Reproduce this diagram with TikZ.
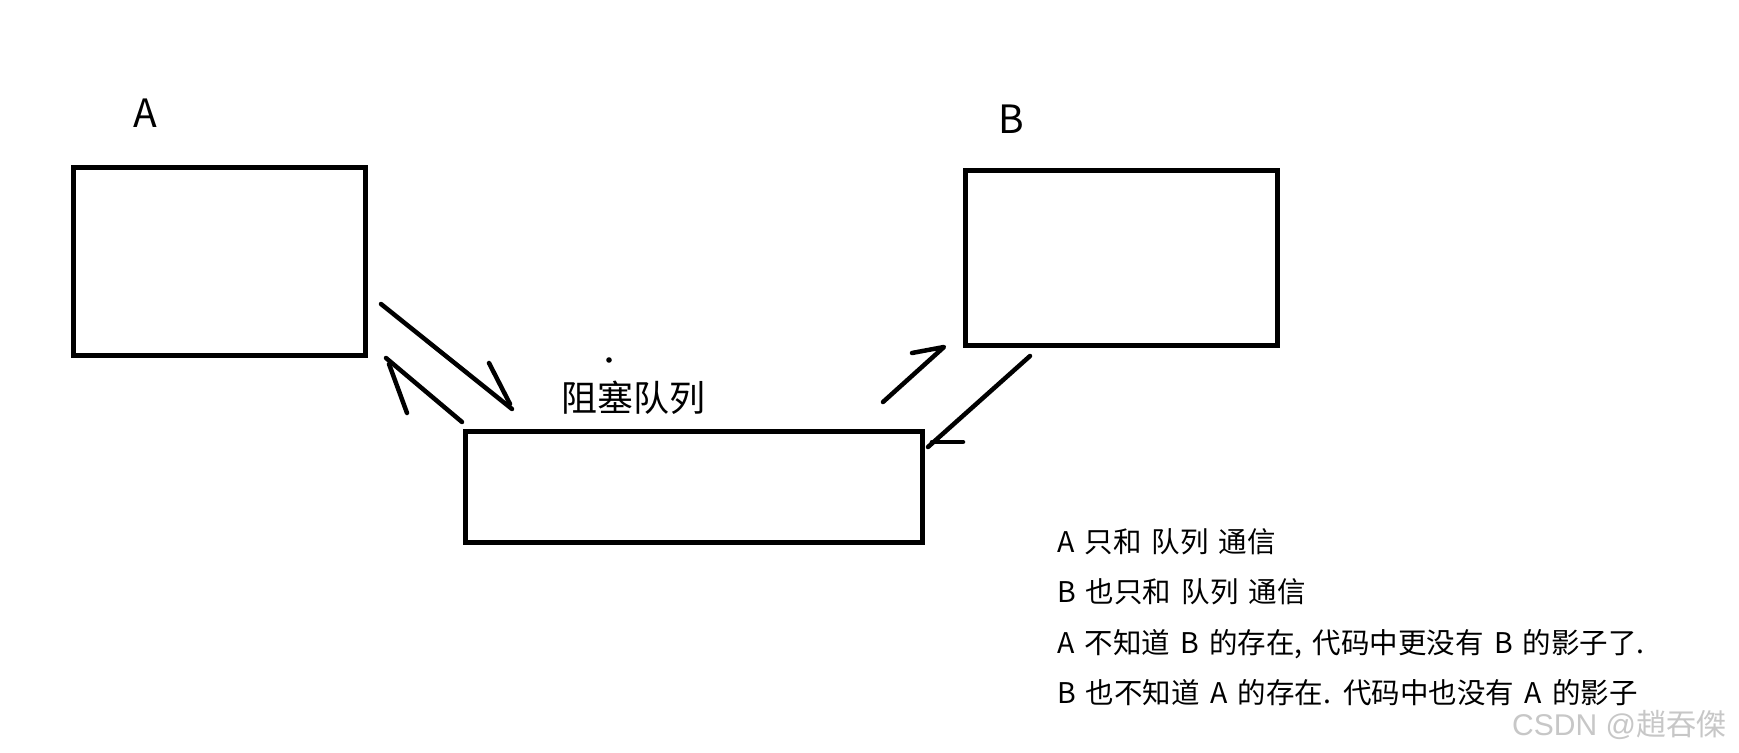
\documentclass[tikz,border=0pt]{standalone}
\usepackage{fontspec}
\setmainfont{Noto Sans CJK SC}
\newfontfamily\cjk{Noto Sans CJK SC}
\newfontfamily\cjkw[WordSpace=1.6]{Noto Sans CJK SC}
\newfontfamily\wmlatin{Liberation Sans}
\begin{document}
\begin{tikzpicture}[x=1pt,y=-1pt,
  boxnode/.style={draw=black,line width=5pt,minimum width=#1,inner sep=0pt,outer sep=0pt},
  stroke/.style={line width=4.5pt,line cap=round,line join=round},
  txt/.style={inner sep=0pt,outer sep=0pt,anchor=base west,font=\cjkw\fontsize{28.5}{34}\selectfont},
]
\useasboundingbox (0,0) rectangle (1739,752);
\fill[white] (0,0) rectangle (1739,752);
% boxes
\node[boxnode=292pt,minimum height=188pt] (A) at (219,261) {};
\node[boxnode=312pt,minimum height=175pt] (B) at (1121,257.5) {};
\node[boxnode=457pt,minimum height=111pt] (Q) at (693.5,486.5) {};
% labels
\node[inner sep=0pt,anchor=base west,font=\cjk\fontsize{39}{45}\selectfont] (la) at (133,127) {A};
\node[inner sep=0pt,anchor=base west,font=\cjk\fontsize{39}{45}\selectfont] (lb) at (998,133) {B};
\node[inner sep=0pt,anchor=base west,font=\cjk\fontsize{36}{42}\selectfont] (lq) at (561,411) {阻塞队列};
\fill (609,360) circle (2.8pt);
% arrow end points
\coordinate (a1s) at (381,304);  \coordinate (a1e) at (512,409);  \coordinate (a1b) at (489,363); \coordinate (a1t) at (510,404);
\coordinate (a2s) at (462,422);  \coordinate (a2e) at (386,358);  \coordinate (a2b) at (407,413); \coordinate (a2t) at (389,364);
\coordinate (a3s) at (883,402);  \coordinate (a3e) at (944,347);  \coordinate (a3b) at (912,353);
\coordinate (a4s) at (1030,356); \coordinate (a4e) at (928,447);  \coordinate (a4b) at (963,442); \coordinate (a4t) at (932,442);
\draw[stroke] (a1s) -- (a1e);
\draw[stroke] (a1b) -- (a1t);
\draw[stroke] (a2s) -- (a2e);
\draw[stroke] (a2t) -- (a2b);
\draw[stroke] (a3s) -- (a3e) -- (a3b);
\draw[stroke] (a4s) -- (a4e);
\draw[stroke] (a4t) -- (a4b);
% notes
\node[txt] (t1) at (1057,552) {A 只和 队列 通信};
\node[txt] (t2) at (1057,602) {B 也只和 队列 通信};
\node[txt] (t3) at (1057,653) {A 不知道 B 的存在, 代码中更没有 B 的影子了.};
\node[txt] (t4) at (1057,703) {B 也不知道 A 的存在. 代码中也没有 A 的影子};
\node[inner sep=0pt,anchor=base west,text=black!22,font=\fontsize{30}{36}\selectfont] (wm) at (1512,735) {{\wmlatin CSDN @}{\cjk 趙吞傑}};
\end{tikzpicture}
\end{document}
